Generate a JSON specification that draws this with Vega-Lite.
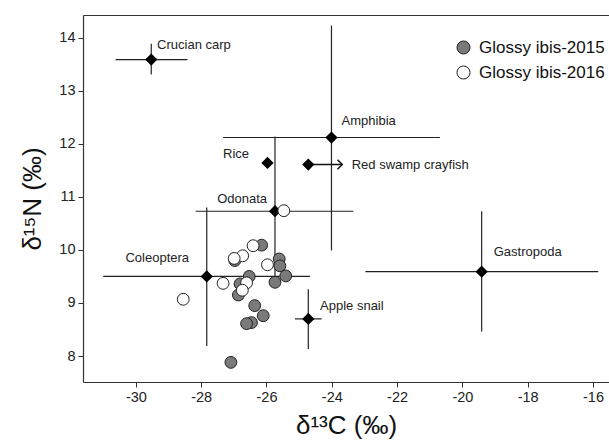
{
  "$schema": "https://vega.github.io/schema/vega-lite/v6.json",
  "width": 526,
  "height": 367,
  "autosize": {"type": "none"},
  "padding": {"left": 83, "top": 15, "right": 0, "bottom": 63},
  "config": {
    "view": {"stroke": null},
    "font": "Liberation Sans",
    "axis": {
      "domainColor": "#333", "domainWidth": 1.2, "tickColor": "#333", "tickSize": 5, "tickWidth": 1,
      "labelColor": "#222", "labelFontSize": 14.5, "labelFont": "Liberation Sans",
      "titleColor": "#111", "titleFontWeight": "normal", "titleFontSize": 26, "titleFont": "Liberation Sans",
      "grid": false, "labelPadding": 3
    }
  },
  "datasets": {
    "food": [
      {"source": "Crucian carp", "x": -29.53, "y": 13.59, "xlo": -30.62, "xhi": -28.42, "ylo": 13.31, "yhi": 13.89},
      {"source": "Amphibia", "x": -24.01, "y": 12.12, "xlo": -27.33, "xhi": -20.69, "ylo": 9.99, "yhi": 14.23},
      {"source": "Rice", "x": -25.97, "y": 11.64, "xlo": null, "xhi": null, "ylo": null, "yhi": null},
      {"source": "Red swamp crayfish", "x": -24.72, "y": 11.61, "xlo": null, "xhi": null, "ylo": null, "yhi": null},
      {"source": "Odonata", "x": -25.74, "y": 10.73, "xlo": -28.17, "xhi": -23.34, "ylo": 9.35, "yhi": 12.14},
      {"source": "Coleoptera", "x": -27.83, "y": 9.5, "xlo": -31.0, "xhi": -24.67, "ylo": 8.19, "yhi": 10.8},
      {"source": "Apple snail", "x": -24.72, "y": 8.7, "xlo": -25.13, "xhi": -24.31, "ylo": 8.13, "yhi": 9.26},
      {"source": "Gastropoda", "x": -19.41, "y": 9.59, "xlo": -22.97, "xhi": -15.84, "ylo": 8.46, "yhi": 10.73}
    ],
    "labels": [
      {"label": "Crucian carp", "x": -29.35, "y": 13.87},
      {"label": "Amphibia", "x": -23.7, "y": 12.44},
      {"label": "Rice", "x": -27.33, "y": 11.8},
      {"label": "Red swamp crayfish", "x": -23.39, "y": 11.61},
      {"label": "Odonata", "x": -27.51, "y": 10.96},
      {"label": "Coleoptera", "x": -30.32, "y": 9.85},
      {"label": "Apple snail", "x": -24.36, "y": 8.95},
      {"label": "Gastropoda", "x": -19.04, "y": 9.97}
    ],
    "arrow": [{"x": -24.72, "x2": -23.68, "y": 11.61}],
    "ibis": [
      {"group": "Glossy ibis-2015", "x": -26.15, "y": 10.09},
      {"group": "Glossy ibis-2015", "x": -25.61, "y": 9.83},
      {"group": "Glossy ibis-2015", "x": -25.59, "y": 9.7},
      {"group": "Glossy ibis-2015", "x": -25.41, "y": 9.51},
      {"group": "Glossy ibis-2015", "x": -25.74, "y": 9.39},
      {"group": "Glossy ibis-2015", "x": -26.53, "y": 9.5},
      {"group": "Glossy ibis-2015", "x": -26.97, "y": 9.8},
      {"group": "Glossy ibis-2015", "x": -26.81, "y": 9.36},
      {"group": "Glossy ibis-2015", "x": -26.86, "y": 9.15},
      {"group": "Glossy ibis-2015", "x": -26.36, "y": 8.95},
      {"group": "Glossy ibis-2015", "x": -26.1, "y": 8.76},
      {"group": "Glossy ibis-2015", "x": -26.46, "y": 8.63},
      {"group": "Glossy ibis-2015", "x": -26.61, "y": 8.61},
      {"group": "Glossy ibis-2015", "x": -27.09, "y": 7.88},
      {"group": "Glossy ibis-2016", "x": -25.47, "y": 10.74},
      {"group": "Glossy ibis-2016", "x": -26.41, "y": 10.08},
      {"group": "Glossy ibis-2016", "x": -26.73, "y": 9.89},
      {"group": "Glossy ibis-2016", "x": -26.99, "y": 9.84},
      {"group": "Glossy ibis-2016", "x": -25.97, "y": 9.72},
      {"group": "Glossy ibis-2016", "x": -27.33, "y": 9.37},
      {"group": "Glossy ibis-2016", "x": -26.61, "y": 9.38},
      {"group": "Glossy ibis-2016", "x": -26.74, "y": 9.24},
      {"group": "Glossy ibis-2016", "x": -28.55, "y": 9.07}
    ]
  },
  "layer": [
    {
      "data": {"name": "food"},
      "transform": [{"filter": "isValid(datum.xlo)"}],
      "mark": {"type": "rule", "color": "#222", "strokeWidth": 1.2},
      "encoding": {
        "x": {"field": "xlo", "type": "quantitative", "scale": {"domain": [-31.62, -15.51], "nice": false, "zero": false},
              "axis": {"values": [-30, -28, -26, -24, -22, -20, -18, -16], "labelExpr": "toString(datum.value)", "title": "δ¹³C (‰)", "titlePadding": 9}},
        "x2": {"field": "xhi"},
        "y": {"field": "y", "type": "quantitative", "scale": {"domain": [7.51, 14.43], "nice": false, "zero": false},
              "axis": {"values": [8, 9, 10, 11, 12, 13, 14], "title": "δ¹⁵N (‰)", "titlePadding": 13}}
      }
    },
    {
      "data": {"name": "food"},
      "transform": [{"filter": "isValid(datum.ylo)"}],
      "mark": {"type": "rule", "color": "#222", "strokeWidth": 1.2},
      "encoding": {
        "x": {"field": "x", "type": "quantitative", "axis": null},
        "y": {"field": "ylo", "type": "quantitative", "axis": null},
        "y2": {"field": "yhi"}
      }
    },
    {
      "data": {"name": "arrow"},
      "mark": {"type": "rule", "color": "#111", "strokeWidth": 1.4},
      "encoding": {
        "x": {"field": "x", "type": "quantitative", "axis": null},
        "x2": {"field": "x2"},
        "y": {"field": "y", "type": "quantitative", "axis": null}
      }
    },
    {
      "data": {"name": "arrow"},
      "mark": {"type": "point", "shape": "M-1,-1L0,0L-1,1", "filled": false, "stroke": "#111", "strokeWidth": 1.5, "size": 90, "opacity": 1},
      "encoding": {
        "x": {"field": "x2", "type": "quantitative", "axis": null},
        "y": {"field": "y", "type": "quantitative", "axis": null}
      }
    },
    {
      "data": {"name": "food"},
      "mark": {"type": "point", "shape": "diamond", "filled": true, "color": "#000", "size": 150, "opacity": 1},
      "encoding": {
        "x": {"field": "x", "type": "quantitative", "axis": null},
        "y": {"field": "y", "type": "quantitative", "axis": null}
      }
    },
    {
      "data": {"name": "ibis"},
      "mark": {"type": "point", "shape": "circle", "filled": true, "stroke": "#222", "strokeWidth": 1, "size": 140, "opacity": 1},
      "encoding": {
        "x": {"field": "x", "type": "quantitative", "axis": null},
        "y": {"field": "y", "type": "quantitative", "axis": null},
        "fill": {"field": "group", "type": "nominal",
                 "scale": {"domain": ["Glossy ibis-2015", "Glossy ibis-2016"], "range": ["#7a7a7a", "#ffffff"]},
                 "legend": {"title": null, "orient": "none", "legendX": 372, "legendY": 24, "symbolType": "circle", "symbolSize": 170,
                            "symbolStrokeColor": "#222", "symbolStrokeWidth": 1, "symbolOpacity": 1, "labelFontSize": 17, "labelColor": "#111",
                            "labelFont": "Liberation Sans", "rowPadding": 6, "labelOffset": 7, "padding": 0}}
      }
    },
    {
      "data": {"name": "labels"},
      "mark": {"type": "text", "align": "left", "baseline": "middle", "fontSize": 13, "color": "#222", "font": "Liberation Sans"},
      "encoding": {
        "x": {"field": "x", "type": "quantitative", "axis": {"orient": "top", "labels": false, "ticks": false, "title": null, "domain": true}},
        "y": {"field": "y", "type": "quantitative", "axis": null},
        "text": {"field": "label"}
      }
    }
  ],
  "resolve": {"axis": {"x": "independent", "y": "independent"}}
}
